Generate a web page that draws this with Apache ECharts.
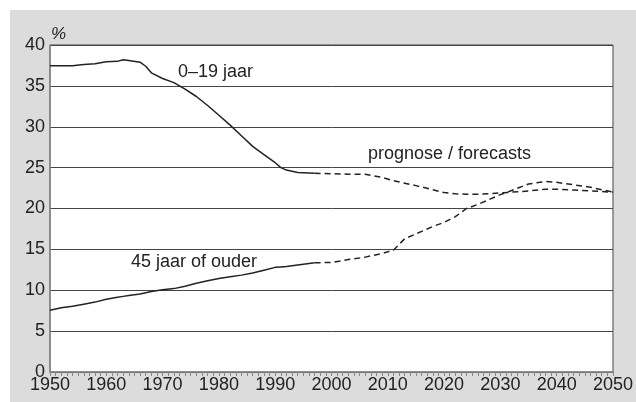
<!DOCTYPE html>
<html>
<head>
<meta charset="utf-8">
<script src="https://cdn.jsdelivr.net/npm/echarts@6/dist/echarts.min.js"></script>
<style>
  html, body { margin: 0; padding: 0; background: #fff; }
  #chart { width: 636px; height: 402px; }
</style>
</head>
<body>
<div id="chart"></div>
<script>
// observed years (until 1997)
var histYears = [1950,1952,1954,1956,1958,1960,1962,1963,1964,1966,1967,1968,1970,1972,1974,1976,1978,1980,1982,1984,1986,1988,1990,1991,1992,1994,1997];
var histYoung = [37.45,37.45,37.45,37.6,37.7,37.95,38.0,38.2,38.1,37.9,37.4,36.6,35.9,35.4,34.6,33.7,32.6,31.4,30.2,28.9,27.6,26.6,25.6,25.0,24.7,24.4,24.3];
var histOld   = [7.55,7.85,8.05,8.3,8.55,8.9,9.15,9.25,9.35,9.55,9.7,9.85,10.05,10.2,10.5,10.85,11.15,11.45,11.65,11.85,12.1,12.45,12.8,12.85,12.9,13.1,13.35];

// forecasts (prognose)
var progYears = [1997,2000,2003,2006,2009,2011,2013,2015,2018,2020,2022,2024,2026,2028,2030,2032,2035,2038,2040,2043,2046,2050];
var progYoung = [24.3,24.25,24.2,24.2,23.8,23.4,23.1,22.8,22.3,21.95,21.8,21.75,21.75,21.8,21.9,22.0,22.15,22.35,22.35,22.25,22.15,22.0];
var progOld   = [13.35,13.4,13.75,14.05,14.5,14.9,16.3,16.9,17.8,18.3,19.0,20.0,20.5,21.1,21.7,22.2,23.0,23.3,23.2,22.9,22.6,22.0];

var yTicks = [0,5,10,15,20,25,30,35,40];

function pairs(xs, ys){
  var out = [];
  for(var i=0;i<xs.length;i++){
    out.push([xs[i], ys[i]]);
  }
  return out;
}

var font = "'Liberation Sans', Arial, sans-serif";
var ink = '#222';

var chart = echarts.init(document.getElementById('chart'));
var option = {
  backgroundColor: '#fff',
  animation: false,
  textStyle: { fontFamily: font },
  graphic: [
    { type: 'rect', z: -10, shape: { x: 10, y: 10, width: 626, height: 392 }, style: { fill: '#dcdcdc' } },
    { type: 'text', left: 51, top: 26, style: { text: '%', font: 'italic 17px ' + font, fill: ink } },
    { type: 'text', left: 178, top: 63, style: { text: '0–19 jaar', font: '18px ' + font, fill: ink } },
    { type: 'text', left: 368, top: 145, style: { text: 'prognose / forecasts', font: '18px ' + font, fill: ink } },
    { type: 'text', left: 131, top: 253, style: { text: '45 jaar of ouder', font: '18px ' + font, fill: ink } }
  ],
  grid: {
    left: 50, top: 45, right: 14, bottom: 30,
    show: true, backgroundColor: '#fff', borderColor: '#444', borderWidth: 1
  },
  xAxis: {
    type: 'value', min: 1950, max: 2050, interval: 10,
    axisLine: { show: true, lineStyle: { color: '#888', width: 1.5 } },
    axisTick: { show: true, length: 4, lineStyle: { color: '#888' } },
    minorTick: { show: true, splitNumber: 10, length: 4, lineStyle: { color: '#888' } },
    splitLine: { show: false },
    axisLabel: { color: ink, fontSize: 18, margin: 4, fontFamily: font,
      formatter: function(v){ return String(v); } }
  },
  yAxis: {
    type: 'value', min: yTicks[0], max: yTicks[yTicks.length-1], interval: 5,
    axisLine: { show: true, lineStyle: { color: '#888', width: 1.5 } },
    axisTick: { show: false },
    splitLine: { show: true, lineStyle: { color: '#444', width: 1 } },
    axisLabel: { color: ink, fontSize: 18, margin: 5, fontFamily: font }
  },
  series: [
    { name: '0-19 jaar', type: 'line', data: pairs(histYears, histYoung), showSymbol: false,
      lineStyle: { color: ink, width: 1.5 } },
    { name: '45 jaar of ouder', type: 'line', data: pairs(histYears, histOld), showSymbol: false,
      lineStyle: { color: ink, width: 1.5 } },
    { name: '0-19 jaar prognose', type: 'line', data: pairs(progYears, progYoung), showSymbol: false,
      lineStyle: { color: ink, width: 1.5, type: [6, 4] } },
    { name: '45 jaar of ouder prognose', type: 'line', data: pairs(progYears, progOld), showSymbol: false,
      lineStyle: { color: ink, width: 1.5, type: [6, 4] } }
  ]
};
chart.setOption(option);
</script>
</body>
</html>
